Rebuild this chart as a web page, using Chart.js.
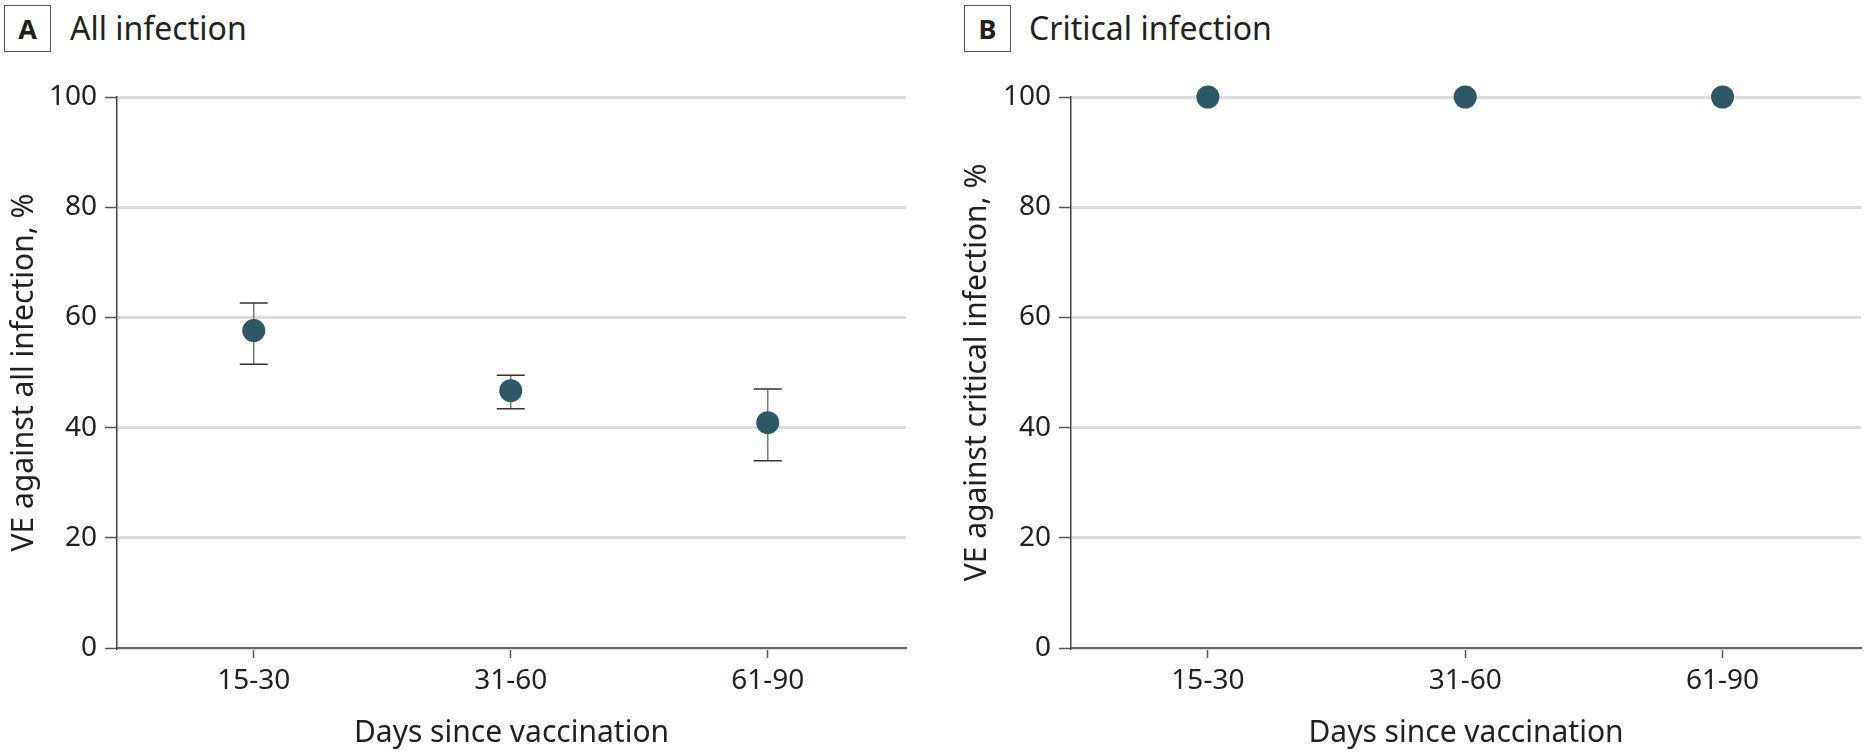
<!DOCTYPE html>
<html>
<head>
<meta charset="utf-8">
<script src="https://cdn.jsdelivr.net/npm/chart.js@4/dist/chart.umd.min.js"></script>
<style>
  html, body { margin: 0; padding: 0; background: #fff; }
  body { width: 1864px; height: 752px; position: relative; overflow: hidden; font-family: "Noto Sans", sans-serif; color: #231f20; }
  .panel { position: absolute; top: 0; height: 752px; }
  .tag {
    position: absolute; top: 5px; width: 47px; height: 47px; box-sizing: border-box;
    border: 1.5px solid #555; font-weight: bold; font-size: 27px;
    display: flex; align-items: center; justify-content: center;
  }
  .title { position: absolute; top: 6px; font-size: 32px; line-height: 44px; white-space: nowrap; }
</style>
</head>
<body>
<div class="tag" style="left:4px">A</div>
<div class="title" style="left:70px">All infection</div>
<div class="tag" style="left:964px">B</div>
<div class="title" style="left:1029px">Critical infection</div>

<div class="panel" style="left:0;width:932px"><canvas id="chartA"></canvas></div>
<div class="panel" style="left:932px;width:932px"><canvas id="chartB"></canvas></div>

<script>
// Days since vaccination categories
const periods = ['15-30', '31-60', '61-90'];

// Panel A: VE against all infection, % (point estimate and 95% CI)
const allVE = [57.6, 46.7, 40.9];
const allLower = [51.5, 43.4, 34.0];
const allUpper = [62.6, 49.5, 47.0];

// Panel B: VE against critical infection, %
const criticalVE = [100, 100, 100];

const yTicks = [0, 20, 40, 60, 80, 100];

const textColor = '#231f20';
const markerColor = '#2d5866';
const fontFamily = '"Noto Sans", sans-serif';

// draws whiskers with caps under the markers
const errorBars = {
    id: 'errorBars',
    beforeDatasetsDraw(chart, args, opts) {
        if (!opts.lower) return;
        const ctx = chart.ctx;
        const xs = chart.scales.x, ys = chart.scales.y;
        ctx.save();
        opts.lower.forEach((lo, i) => {
            const x = xs.getPixelForValue(i + 1);
            const yLo = ys.getPixelForValue(lo);
            const yHi = ys.getPixelForValue(opts.upper[i]);
            ctx.strokeStyle = '#777';
            ctx.lineWidth = 1.5;
            ctx.beginPath();
            ctx.moveTo(x, yLo);
            ctx.lineTo(x, yHi);
            ctx.stroke();
            ctx.strokeStyle = '#333';
            ctx.beginPath();
            ctx.moveTo(x - 14, yLo); ctx.lineTo(x + 14, yLo);
            ctx.moveTo(x - 14, yHi); ctx.lineTo(x + 14, yHi);
            ctx.stroke();
        });
        ctx.restore();
    }
};

function makeChart(id, values, yTitle, axisWidth, titlePad, rightPad, lower, upper) {
    const ctx = document.getElementById(id).getContext('2d');
    return new Chart(ctx, {
        type: 'scatter',
        data: {
            datasets: [{
                data: values.map((v, i) => ({ x: i + 1, y: v })),
                backgroundColor: markerColor,
                borderWidth: 0,
                pointRadius: 11.5,
                pointHoverRadius: 11.5,
                clip: false
            }]
        },
        options: {
            responsive: true,
            maintainAspectRatio: false,
            animation: false,
            events: [],
            layout: { autoPadding: false, padding: { top: 97, right: rightPad, bottom: 0, left: 0 } },
            plugins: {
                legend: { display: false },
                tooltip: { enabled: false },
                errorBars: { lower: lower, upper: upper }
            },
            scales: {
                x: {
                    type: 'linear',
                    min: 0.468,
                    max: 3.538,
                    afterBuildTicks: s => { s.ticks = periods.map((p, i) => ({ value: i + 1 })); },
                    afterFit: s => { s.height = 104; },
                    border: { color: '#666', width: 2 },
                    grid: { drawOnChartArea: false, drawTicks: true, tickLength: 10, tickColor: '#555', tickWidth: 1.5 },
                    ticks: {
                        autoSkip: false,
                        maxRotation: 0,
                        padding: 6,
                        color: textColor,
                        font: { family: fontFamily, size: 28 },
                        callback: v => periods[v - 1]
                    },
                    title: {
                        display: true,
                        text: 'Days since vaccination',
                        color: textColor,
                        font: { family: fontFamily, size: 30 },
                        padding: { top: 0, bottom: 1 }
                    }
                },
                y: {
                    min: 0,
                    max: 100,
                    afterBuildTicks: s => { s.ticks = yTicks.map(v => ({ value: v })); },
                    afterFit: s => { s.width = axisWidth; },
                    border: { color: '#444', width: 1.5 },
                    grid: { color: '#dcdcdc', lineWidth: 3, tickLength: 12, tickColor: '#555', tickWidth: 1.5 },
                    ticks: {
                        padding: 8,
                        color: textColor,
                        font: { family: fontFamily, size: 28 }
                    },
                    title: {
                        display: true,
                        text: yTitle,
                        color: textColor,
                        font: { family: fontFamily, size: 30 },
                        padding: { top: titlePad, bottom: 0 }
                    }
                }
            }
        },
        plugins: [errorBars]
    });
}

makeChart('chartA', allVE, 'VE against all infection, %', 117, 6, 26, allLower, allUpper);
makeChart('chartB', criticalVE, 'VE against critical infection, %', 139, 27, 3, null, null);
</script>
</body>
</html>
